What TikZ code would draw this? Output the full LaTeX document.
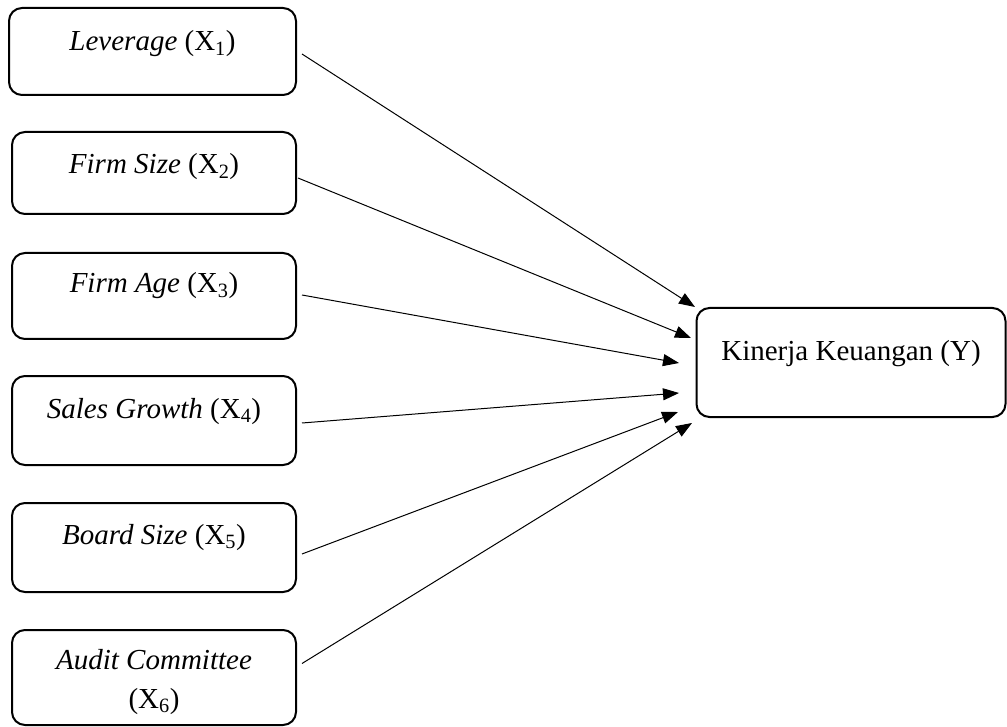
\documentclass[tikz,border=0pt]{standalone}
\usepackage{fontspec}
\setmainfont{Liberation Serif}
\usetikzlibrary{arrows.meta}
\begin{document}
\begin{tikzpicture}[x=1pt,y=-1pt,
  box/.style={draw, line width=2pt, rounded corners=13pt, anchor=north,
    inner xsep=0pt, inner ysep=0pt, font=\fontsize{29}{39}\selectfont, align=center},
  arr/.style={line width=1pt, -{Triangle[length=16pt,width=12pt]}}]
\useasboundingbox (0,0) rectangle (1007,727);
\node[box, minimum width=287pt, text height=43pt, text depth=44pt] (x1) at (152.5,7) {\textit{Leverage} (X\textsubscript{1})};
\node[box, minimum width=284pt, text height=42pt, text depth=40pt] (x2) at (154,131) {\textit{Firm Size} (X\textsubscript{2})};
\node[box, minimum width=284pt, text height=40pt, text depth=46pt] (x3) at (154,252) {\textit{Firm Age} (X\textsubscript{3})};
\node[box, minimum width=284pt, text height=42pt, text depth=47pt] (x4) at (154,375) {\textit{Sales Growth} (X\textsubscript{4})};
\node[box, minimum width=284pt, text height=41pt, text depth=48pt] (x5) at (154,502) {\textit{Board Size} (X\textsubscript{5})};
\node[box, minimum width=284pt, text height=78pt, text depth=17pt] (x6) at (154,629) {\textit{Audit Committee}\\(X\textsubscript{6})};
\node[box, minimum width=309pt, text height=53pt, text depth=56pt] (y) at (851,307) {Kinerja Keuangan (Y)};
\coordinate (t1) at (695,307);
\coordinate (t2) at (691,338);
\coordinate (t3) at (679,363);
\coordinate (t4) at (679,393);
\coordinate (t5) at (678,412);
\coordinate (t6) at (692,423);
\draw[arr] ([xshift=5pt,yshift=-2.5pt]x1.east) -- (t1);
\draw[arr] ([xshift=1pt,yshift=-5pt]x2.east) -- (t2);
\draw[arr] ([xshift=5pt,yshift=1pt]x3.east) -- (t3);
\draw[arr] ([xshift=5pt,yshift=-2.5pt]x4.east) -- (t4);
\draw[arr] ([xshift=5pt,yshift=-6.5pt]x5.east) -- (t5);
\draw[arr] ([xshift=5pt,yshift=14pt]x6.east) -- (t6);
\end{tikzpicture}
\end{document}
